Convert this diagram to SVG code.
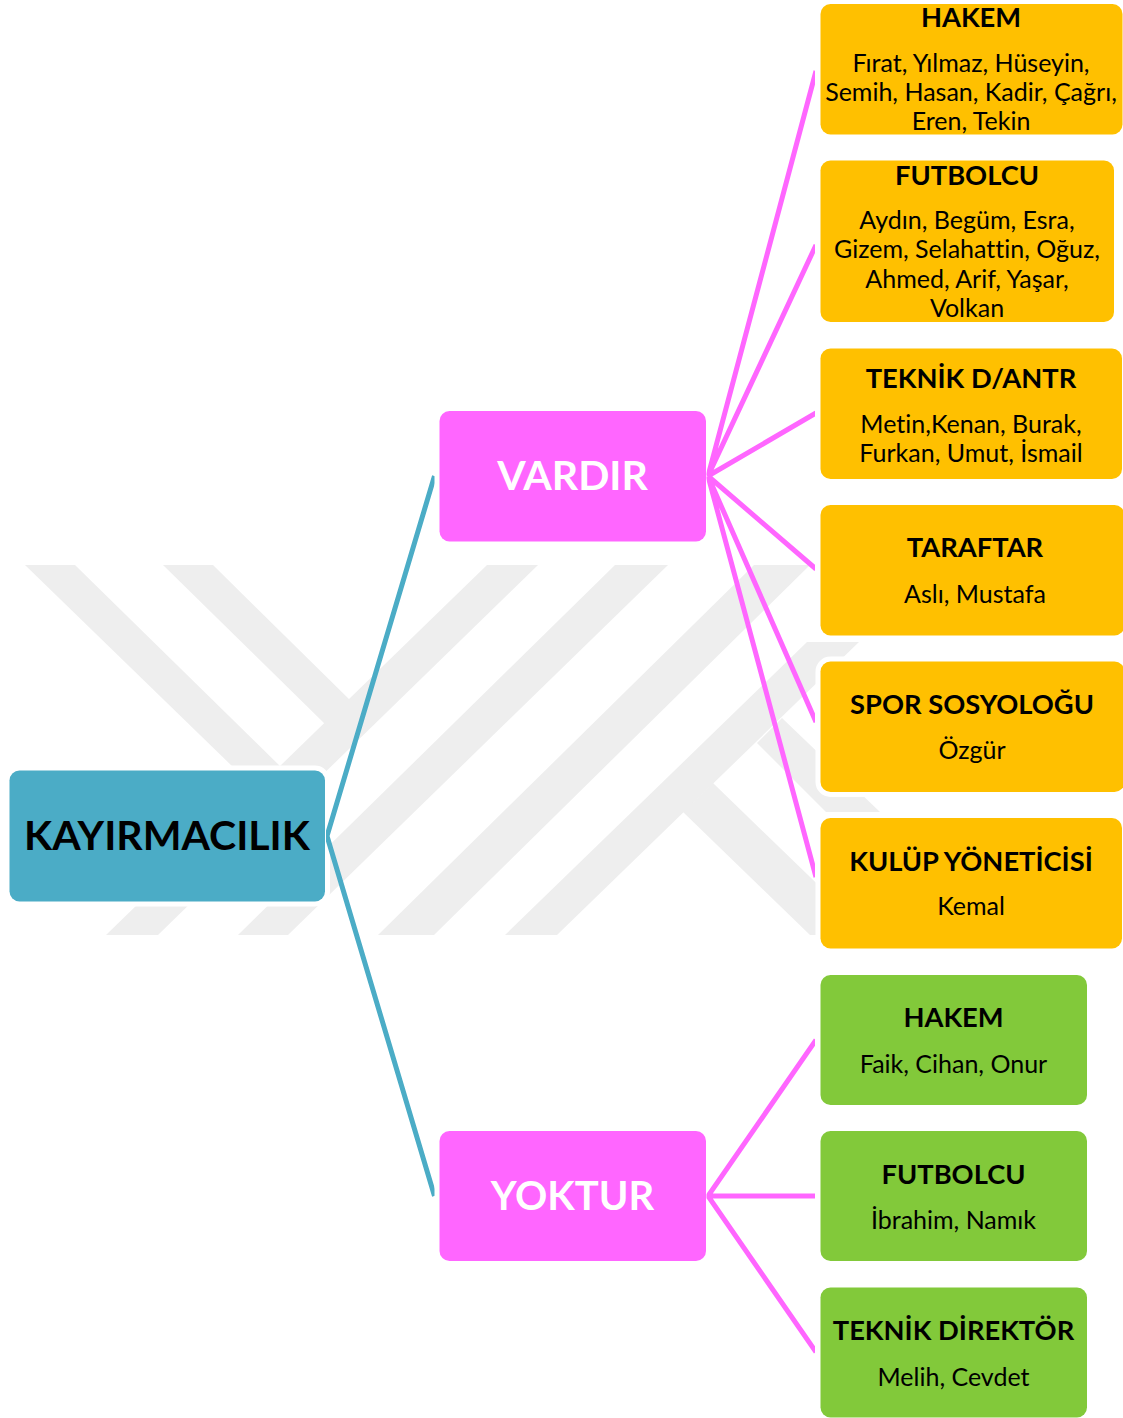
<svg xmlns="http://www.w3.org/2000/svg" width="1123" height="1418" viewBox="0 0 1123 1418">
<style>
.wm polygon{fill:#eeeeee}
.n{stroke:#fff;stroke-width:10;paint-order:stroke}
.o{fill:#ffc000}.g{fill:#82c93a}.m{fill:#ff66ff}.t{fill:#4bacc6}
text{font-family:"Lato","Carlito","Liberation Sans",sans-serif;text-anchor:middle;fill:#000;font-variant-ligatures:none}
.h{font-size:27.3px;font-weight:bold}
.b{font-size:25px}
.big{font-size:41px;font-weight:bold}
.w{fill:#fff}
.cm{fill:none;stroke:#ff66ff;stroke-width:5}
.ct{fill:none;stroke:#4bacc6;stroke-width:5}
</style>
<defs>
<clipPath id="cc"><rect x="326" y="0" width="108.500" height="1418"/><rect x="706.500" y="0" width="108.500" height="1418"/></clipPath>
</defs>
<rect width="1123" height="1418" fill="#fff"/>
<g class="wm">
<polygon points="25,565 75,565 282,768 234,768"/>
<polygon points="163,565 213,565 352,702 326,725"/>
<polygon points="487,565 538,565 158,935 106,935"/>
<polygon points="615,565 668,565 288,935 238,935"/>
<polygon points="754,565 810,565 434,935 378,935"/>
<polygon points="807,642 859,642 557,935 505,935"/>
<polygon points="683,812 713,783 870,935 810,935"/>
<polygon points="757,743 782,718 880,812 826,812"/>
</g>
<g id="kayirmacilik"><rect x="9.500" y="770.500" width="315.500" height="131" rx="10" class="n t"/><text x="167" y="850" class="big">KAYIRMACILIK</text></g>
<g id="vardir"><rect x="439.500" y="411" width="266.500" height="130.500" rx="10" class="n m"/><text x="572.500" y="490" class="big w">VARDIR</text></g>
<g id="yoktur"><rect x="439.500" y="1131" width="266.500" height="130" rx="10" class="n m"/><text x="572.500" y="1210" class="big w" style="font-size:40px">YOKTUR</text></g>
<g id="hakem1"><rect x="820.500" y="4" width="302" height="130.500" rx="10" class="n o"/><text x="971" y="27" class="h">HAKEM</text><text x="971" y="72" class="b">Fırat, Yılmaz, Hüseyin,</text><text x="971" y="101" class="b">Semih, Hasan, Kadir, Çağrı,</text><text x="971" y="130" class="b">Eren, Tekin</text></g>
<g id="futbolcu1"><rect x="820.500" y="160.500" width="293.500" height="161.500" rx="10" class="n o"/><text x="967" y="185" class="h">FUTBOLCU</text><text x="967" y="229" class="b">Aydın, Begüm, Esra,</text><text x="967" y="258" class="b">Gizem, Selahattin, Oğuz,</text><text x="967" y="288" class="b">Ahmed, Arif, Yaşar,</text><text x="967" y="317" class="b">Volkan</text></g>
<g id="teknik1"><rect x="820.500" y="348.500" width="301.500" height="130.500" rx="10" class="n o"/><text x="971" y="388" class="h">TEKNİK D/ANTR</text><text x="971" y="433" class="b">Metin,Kenan, Burak,</text><text x="971" y="462" class="b">Furkan, Umut, İsmail</text></g>
<g id="taraftar"><rect x="820.500" y="505" width="304" height="130.500" rx="10" class="n o"/><text x="975" y="557" class="h">TARAFTAR</text><text x="975" y="603" class="b">Aslı, Mustafa</text></g>
<g id="spor"><rect x="820.500" y="661.500" width="304" height="130.500" rx="10" class="n o"/><text x="972" y="714" class="h">SPOR SOSYOLOĞU</text><text x="972" y="759" class="b">Özgür</text></g>
<g id="kulup"><rect x="820.500" y="818" width="301.500" height="130.500" rx="10" class="n o"/><text x="971" y="871" class="h">KULÜP YÖNETİCİSİ</text><text x="971" y="915" class="b">Kemal</text></g>
<g id="hakem2"><rect x="820.500" y="975" width="266.500" height="130" rx="10" class="n g"/><text x="953.500" y="1027" class="h">HAKEM</text><text x="953.500" y="1073" class="b">Faik, Cihan, Onur</text></g>
<g id="futbolcu2"><rect x="820.500" y="1131" width="266.500" height="130" rx="10" class="n g"/><text x="953.500" y="1184" class="h">FUTBOLCU</text><text x="953.500" y="1229" class="b">İbrahim, Namık</text></g>
<g id="teknik2"><rect x="820.500" y="1287.500" width="266.500" height="130" rx="10" class="n g"/><text x="953.500" y="1340" class="h">TEKNİK DİREKTÖR</text><text x="953.500" y="1386" class="b">Melih, Cevdet</text></g>
<g id="connectors" clip-path="url(#cc)">
<path class="ct" d="M434.500 476L327 836L434.500 1196"/>
<path class="cm" d="M816 71L708 476L816 245M708 476L816 413M708 476L816 569M708 476L816 722M708 476L816 877"/>
<path class="cm" d="M816 1040L708 1196L816 1196M708 1196L816 1352"/>
</g>
</svg>
